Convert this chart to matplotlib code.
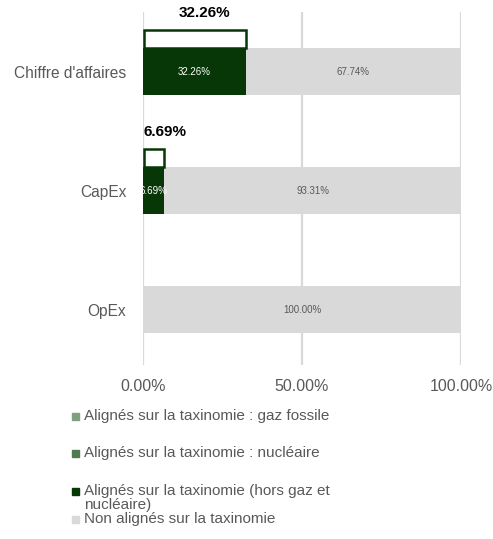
import matplotlib.pyplot as plt
from matplotlib.patches import Rectangle

plt.rcParams['font.family'] = ['Liberation Sans', 'DejaVu Sans']

# data
categories = ["Chiffre d'affaires", "CapEx", "OpEx"]
gaz_fossile = [0.0, 0.0, 0.0]
nucleaire = [0.0, 0.0, 0.0]
hors_gaz = [32.26, 6.69, 0.0]
non_alignes = [67.74, 93.31, 100.0]
ticks = [0, 50, 100]
tick_labels = ["0.00%", "50.00%", "100.00%"]
legend_labels = ["Alignés sur la taxinomie : gaz fossile",
                 "Alignés sur la taxinomie : nucléaire",
                 "Alignés sur la taxinomie (hors gaz et\nnucléaire)",
                 "Non alignés sur la taxinomie"]

colors = ["#7f9f7f", "#4f7a4f", "#073707", "#d9d9d9"]
text_grey = "#595959"

fig = plt.figure(figsize=(4.93, 5.39), dpi=100)
ax = fig.add_axes([143/493, 1 - 365/539, 318/493, 353/539])

bh = 0.395
y = list(range(len(categories)))
series = [gaz_fossile, nucleaire, hors_gaz, non_alignes]
left = [0.0] * len(categories)
for k, vals in enumerate(series):
    ax.barh(y, vals, left=left, height=bh, color=colors[k], zorder=2)
    for i, v in enumerate(vals):
        if v > 0:
            tc = "white" if k < 3 else text_grey
            ax.text(left[i] + v / 2, i, f"{v:.2f}%", ha='center', va='center',
                    fontsize=7, color=tc, zorder=3)
    left = [a + b for a, b in zip(left, vals)]

# outline box showing total aligned share
box_h = 0.151
for i in range(len(categories)):
    tot = gaz_fossile[i] + nucleaire[i] + hors_gaz[i]
    if tot <= 0:
        continue
    top = i - bh / 2
    ax.add_patch(Rectangle((0.3, top - box_h), tot - 0.3, box_h, fill=False,
                           edgecolor=colors[2], lw=1.8, zorder=3))
    ax.text(max(0, tot * 0.6 - 8), top - box_h - 0.14, f"{tot:.2f}%", ha='left',
            va='center', fontsize=11, fontweight='bold', color='black', zorder=3)

ax.set_xlim(0, 100)
ax.set_ylim(2.466, -0.5)
ax.set_yticks(y)
ax.set_yticklabels(categories, fontsize=11.2, color=text_grey)
ax.set_xticks(ticks)
ax.set_xticklabels(tick_labels, fontsize=11.5, color=text_grey)
ax.tick_params(length=0, pad=10)
ax.tick_params(axis='y', pad=12)
ax.grid(axis='x', color='#d9d9d9', lw=1.6, zorder=0)
for s in ax.spines.values():
    s.set_visible(False)

# legend drawn by hand (uneven spacing like the original)
leg_y = [416, 453, 491, 519]
for lab, c, py in zip(legend_labels, colors, leg_y):
    fig.patches.append(Rectangle((72/493, 1 - (py + 3.5)/539), 7/493, 7/539,
                                 transform=fig.transFigure, color=c))
    if '\n' in lab:
        fig.text(84/493, 1 - (py - 7)/539, lab, ha='left', va='top',
                 fontsize=11, color=text_grey, linespacing=1.0)
    else:
        fig.text(84/493, 1 - py/539, lab, ha='left', va='center',
                 fontsize=11, color=text_grey)

fig.savefig("out.png", dpi=100)
